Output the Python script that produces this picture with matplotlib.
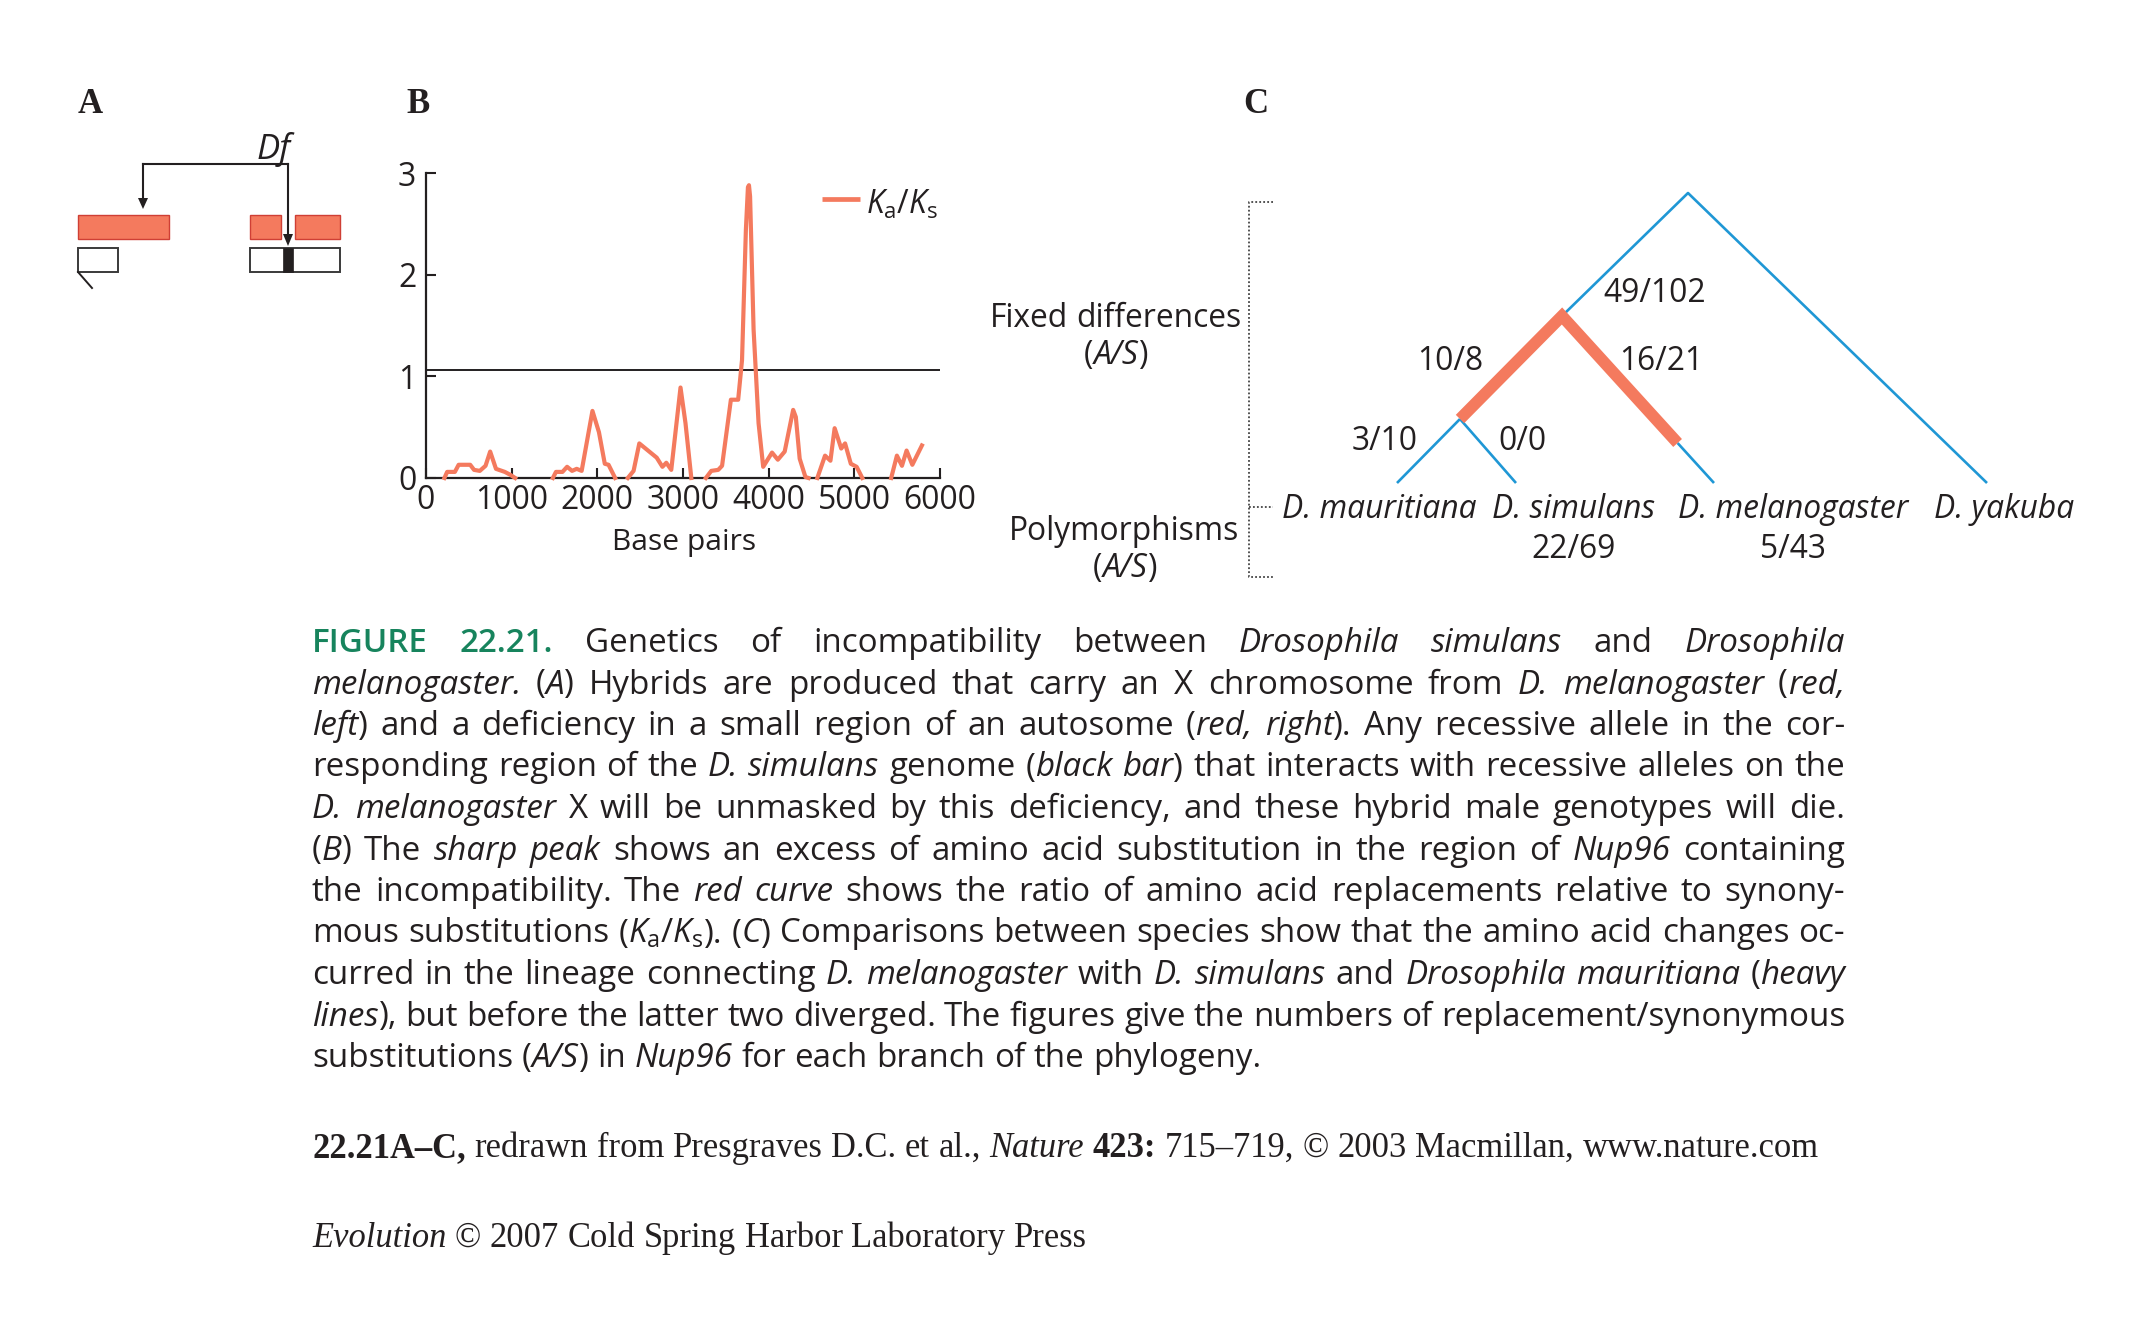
import matplotlib
matplotlib.use('Agg')
import matplotlib.pyplot as plt
import numpy as np
from matplotlib.patches import Rectangle, Polygon

W, H = 2156, 1320
SANS = 'Open Sans'
SERIF = 'Liberation Serif'
plt.rcParams['font.family'] = [SANS, 'DejaVu Sans']
plt.rcParams['mathtext.fontset'] = 'custom'
plt.rcParams['mathtext.rm'] = SANS
plt.rcParams['mathtext.it'] = SANS + ':italic'
plt.rcParams['mathtext.bf'] = SANS + ':bold'

RED = '#F47A5E'
RED_EDGE = '#CF3F35'
BLUE = '#1F97D5'
GREEN = '#17845D'
INK = '#231F20'

# ---------------- data ----------------
# Panel B: Ka/Ks along Nup96 (NaN = gaps where the curve sits on the axis)
bp = [215, 247, 337, 381, 516, 561, 628, 695, 749, 817, 920, 987, 1041, np.nan,
      1481, 1517, 1593, 1647, 1705, 1759, 1817, 1943, 2019, 2087, 2131, 2208, np.nan,
      2356, 2423, 2490, 2693, 2760, 2805, 2863, 2971, 3029, 3097, np.nan,
      3267, 3330, 3411, 3456, 3559, 3644, 3689, 3734, 3758, 3770, 3783, 3824, 3882,
      3936, 4039, 4107, 4187, 4286, 4317, 4362, 4429, 4465, np.nan,
      4568, 4658, 4721, 4770, 4847, 4892, 4959, 5027, 5093, np.nan,
      5430, 5497, 5556, 5610, 5677, 5789]
kaks = [0, 0.06, 0.06, 0.13, 0.13, 0.08, 0.07, 0.12, 0.26, 0.09, 0.06, 0.03, 0, np.nan,
        0, 0.06, 0.06, 0.11, 0.07, 0.09, 0.07, 0.66, 0.45, 0.14, 0.13, 0, np.nan,
        0, 0.07, 0.34, 0.20, 0.11, 0.15, 0.08, 0.89, 0.54, 0, np.nan,
        0, 0.07, 0.08, 0.12, 0.77, 0.77, 1.16, 2.44, 2.86, 2.88, 2.77, 1.46, 0.54,
        0.11, 0.25, 0.18, 0.26, 0.67, 0.60, 0.19, 0.01, 0, np.nan,
        0, 0.22, 0.17, 0.49, 0.29, 0.34, 0.14, 0.11, 0, np.nan,
        0, 0.22, 0.12, 0.27, 0.13, 0.32]
x_ticks = [0, 1000, 2000, 3000, 4000, 5000, 6000]
y_ticks = [0, 1, 2, 3]
threshold = 1.06

# Panel C: phylogeny labels
species = ['D. mauritiana', 'D. simulans', 'D. melanogaster', 'D. yakuba']
polymorphisms = ['', '22/69', '5/43', '']
branch_fixed = ['3/10', '0/0', '10/8', '16/21', '49/102']

caption = [
    "#FIGURE 22.21.# Genetics of incompatibility between *Drosophila simulans* and *Drosophila*",
    "*melanogaster.* (*A*) Hybrids are produced that carry an X chromosome from *D. melanogaster* (*red,*",
    "*left*) and a deficiency in a small region of an autosome (*red, right*). Any recessive allele in the cor-",
    "responding region of the *D. simulans* genome (*black bar*) that interacts with recessive alleles on the",
    "*D. melanogaster* X will be unmasked by this deficiency, and these hybrid male genotypes will die.",
    "(*B*) The *sharp peak* shows an excess of amino acid substitution in the region of *Nup96* containing",
    "the incompatibility. The *red curve* shows the ratio of amino acid replacements relative to synony-",
    "mous substitutions ($K_{\\mathrm{a}}/K_{\\mathrm{s}}$). (*C*) Comparisons between species show that the amino acid changes oc-",
    "curred in the lineage connecting *D. melanogaster* with *D. simulans* and *Drosophila mauritiana* (*heavy*",
    "*lines*), but before the latter two diverged. The figures give the numbers of replacement/synonymous",
    "substitutions (*A/S*) in *Nup96* for each branch of the phylogeny.",
]
credits = [
    "!22.21A\u2013C,! redrawn from Presgraves D.C. et al., *Nature* !423:! 715\u2013719, \u00a9 2003 Macmillan, www.nature.com",
    "*Evolution* \u00a9 2007 Cold Spring Harbor Laboratory Press",
]

# ---------------- figure ----------------
fig = plt.figure(figsize=(W / 100, H / 100), dpi=100)
ax0 = fig.add_axes([0, 0, 1, 1])
ax0.set_xlim(0, W)
ax0.set_ylim(H, 0)
ax0.axis('off')
renderer = fig.canvas.get_renderer()


def tw(s, size, **kw):
    t = ax0.text(0, 0, s, fontsize=size, **kw)
    w = t.get_window_extent(renderer).width
    t.remove()
    return w


def adv(s, size, **kw):
    if s.startswith('$'):
        return tw(s, size, **kw)
    return tw('H' + s + 'H', size, **kw) - tw('HH', size, **kw)


def fit(s, target, base=20, **kw):
    return base * target / tw(s, base, **kw)


def parse(line, markers):
    words = []
    state = set()
    for raw in line.split(' '):
        pieces = []
        buf = ''
        i = 0
        while i < len(raw):
            c = raw[i]
            if c == '$':
                j = raw.index('$', i + 1)
                if buf:
                    pieces.append((buf, frozenset(state)))
                    buf = ''
                pieces.append((raw[i:j + 1], frozenset(state)))
                i = j + 1
                continue
            if c in markers:
                if buf:
                    pieces.append((buf, frozenset(state)))
                    buf = ''
                state ^= {markers[c]}
            else:
                buf += c
            i += 1
        if buf:
            pieces.append((buf, frozenset(state)))
        words.append(pieces)
    return words


def props_sans(st):
    d = dict(family=[SANS, 'DejaVu Sans'], color=INK, style='normal', weight='normal')
    if 'i' in st:
        d['style'] = 'italic'
    if 'g' in st:
        d['color'] = GREEN
        d['weight'] = 'semibold'
    return d


def props_serif(st):
    d = dict(family=[SERIF, 'DejaVu Serif'], color=INK, style='normal', weight='normal')
    if 'i' in st:
        d['style'] = 'italic'
    if 'b' in st:
        d['weight'] = 'bold'
    return d


def word_w(pieces, size, pf):
    return sum(adv(p, size, **pf(st)) for p, st in pieces)


def draw_word(x, y, pieces, size, pf):
    for p, st in pieces:
        ax0.text(x, y, p, fontsize=size, ha='left', va='baseline', **pf(st))
        x += adv(p, size, **pf(st))
    return x


def space_w(size, pf):
    return tw('a a', size, **pf(frozenset())) - tw('aa', size, **pf(frozenset()))


def natural_width(words, size, pf):
    sp = space_w(size, pf)
    return sum(word_w(w, size, pf) for w in words) + sp * (len(words) - 1)


def draw_line(x0, x1, y, words, size, pf, justify=True):
    widths = [word_w(w, size, pf) for w in words]
    sp = space_w(size, pf)
    if justify and len(words) > 1:
        gap = (x1 - x0 - sum(widths)) / (len(words) - 1)
    else:
        gap = sp
    x = x0
    for w, ww in zip(words, widths):
        draw_word(x, y, w, size, pf)
        x += ww + gap


def draw_centered(xc, y, s, size, pf, markers):
    words = parse(s, markers)
    total = natural_width(words, size, pf)
    sp = space_w(size, pf)
    x = xc - total / 2
    for w in words:
        x = draw_word(x, y, w, size, pf) + sp


# ---------------- panel labels ----------------
lab_size = 25
for lab, xl in (('A', 78), ('B', 406), ('C', 1243)):
    ax0.text(xl, 113, lab, fontsize=lab_size, family=SERIF, weight='bold',
             color=INK, ha='left', va='baseline')

# ---------------- panel A ----------------
ax0.add_patch(Rectangle((78, 215), 91, 24, facecolor=RED, edgecolor=RED_EDGE, lw=1))
ax0.add_patch(Rectangle((250, 215), 31, 24, facecolor=RED, edgecolor=RED_EDGE, lw=1))
ax0.add_patch(Rectangle((295, 215), 45, 24, facecolor=RED, edgecolor=RED_EDGE, lw=1))
ax0.add_patch(Rectangle((78, 248), 40, 24, facecolor='white', edgecolor='#3a3a3a', lw=1.4))
ax0.plot([78, 92], [272, 288], color=INK, lw=1.4)
ax0.add_patch(Rectangle((250, 248), 90, 24, facecolor='white', edgecolor='#3a3a3a', lw=1.4))
ax0.add_patch(Rectangle((283, 248), 10, 24, facecolor=INK, edgecolor=INK, lw=0.5))
ax0.plot([143, 288], [164, 164], color=INK, lw=1.5)
ax0.plot([288, 288], [164, 234], color=INK, lw=1.5)
ax0.plot([143, 143], [164, 198], color=INK, lw=1.5)
ax0.add_patch(Polygon([[138, 198], [148, 198], [143, 209]], closed=True, color=INK, lw=0))
ax0.add_patch(Polygon([[283, 234], [293, 234], [288, 246]], closed=True, color=INK, lw=0))
ax0.text(274, 159, 'Df', fontsize=fit('Df', 34, family=SANS, style='italic'),
         family=SANS, style='italic', color=INK, ha='center', va='baseline')

# ---------------- panel B ----------------
axB = fig.add_axes([426 / W, 1 - 478 / H, (940 - 426) / W, (478 - 173) / H])
axB.set_xlim(0, 6000)
axB.set_ylim(0, 3)
axB.plot(bp, kaks, color=RED, lw=3.0, solid_joinstyle='round', zorder=3, clip_on=False)
axB.axhline(threshold, color=INK, lw=1.4, zorder=2)
for s in ('top', 'right'):
    axB.spines[s].set_visible(False)
for s in ('left', 'bottom'):
    axB.spines[s].set_linewidth(1.6)
    axB.spines[s].set_color(INK)
axB.set_xticks(x_ticks)
axB.set_yticks(y_ticks)
tick_size = fit('1000', 73, family=SANS)
axB.set_xticklabels([str(v) for v in x_ticks])
axB.set_yticklabels([str(v) for v in y_ticks])
axB.tick_params(direction='in', length=7, width=1.5, color=INK, labelsize=tick_size,
                labelcolor=INK)
axB.tick_params(axis='x', pad=4)
axB.tick_params(axis='y', pad=7)
axB.patch.set_alpha(0)
ax0.text(684, 550, 'Base pairs', fontsize=fit('Base pairs', 144, family=SANS),
         family=SANS, color=INK, ha='center', va='baseline')
# legend
ax0.plot([822, 860], [199, 199], color=RED, lw=3.4, solid_capstyle='butt')
leg = r'$K_{\mathrm{a}}/K_{\mathrm{s}}$'
ax0.text(866, 214, leg, fontsize=fit(leg, 72), color=INK, ha='left', va='baseline')

# ---------------- panel C ----------------
csize = fit('D. melanogaster', 230, family=SANS, style='italic')
tip_y = 483
tips_x = [1397, 1516, 1714, 1987]
node_ms = (1460, 419)
node_msm = (1562, 316)
root = (1688, 193)
frac = (443 - node_msm[1]) / (tip_y - node_msm[1])
red_end = (node_msm[0] + frac * (tips_x[2] - node_msm[0]), 443)

blue_kw = dict(color=BLUE, lw=1.9, solid_capstyle='butt')
ax0.plot([node_ms[0], tips_x[0]], [node_ms[1], tip_y], **blue_kw)
ax0.plot([node_ms[0], tips_x[1]], [node_ms[1], tip_y], **blue_kw)
ax0.plot([red_end[0], tips_x[2]], [red_end[1], tip_y], **blue_kw)
ax0.plot([node_msm[0], root[0], tips_x[3]], [node_msm[1], root[1], tip_y], **blue_kw)
ax0.plot([node_ms[0], node_msm[0], red_end[0]], [node_ms[1], node_msm[1], red_end[1]],
         color=RED, lw=8.5, solid_joinstyle='miter', solid_capstyle='butt', zorder=4)

for name, xc in zip(species, (1379, 1574, 1793, 2004)):
    ax0.text(xc, 518, name, fontsize=csize, family=SANS, style='italic', color=INK,
             ha='center', va='baseline')
for val, xc in zip(polymorphisms, (1379, 1574, 1793, 2004)):
    if val:
        ax0.text(xc, 558, val, fontsize=csize, family=SANS, color=INK,
                 ha='center', va='baseline')
branch_pos = [(1385, 450), (1522, 450), (1450, 370), (1661, 370), (1655, 302)]
for val, (xc, yb) in zip(branch_fixed, branch_pos):
    ax0.text(xc, yb, val, fontsize=csize, family=SANS, color=INK, ha='center', va='baseline')

mk = {'*': 'i'}
draw_centered(1116, 327, 'Fixed differences', csize, props_sans, mk)
draw_centered(1116, 364, '(*A/S*)', csize, props_sans, mk)
draw_centered(1124, 540, 'Polymorphisms', csize, props_sans, mk)
draw_centered(1125, 577, '(*A/S*)', csize, props_sans, mk)

dot_kw = dict(color='#444444', lw=1.3, linestyle=(0, (1, 1.2)))
ax0.plot([1273, 1249, 1249, 1273], [202, 202, 577, 577], **dot_kw)
ax0.plot([1249, 1273], [507, 507], **dot_kw)

# ---------------- caption ----------------
cap_words = [parse(l, {'*': 'i', '#': 'g'}) for l in caption]
X0, X1 = 312, 1845
base = 20
ratios = [(X1 - X0) / natural_width(w, base, props_sans) for w in cap_words[:-1]]
last_fit = (1299 - X0) / natural_width(cap_words[-1], base, props_sans)
cap_size = base * min(min(ratios), last_fit)
for i, words in enumerate(cap_words):
    y = 652 + 41.5 * i
    draw_line(X0, X1, y, words, cap_size, props_sans, justify=(i < len(cap_words) - 1))

# ---------------- credits ----------------
cr_words = [parse(l, {'*': 'i', '!': 'b'}) for l in credits]
cr_size = base * (1818 - 312) / natural_width(cr_words[0], base, props_serif)
for words, y in zip(cr_words, (1157, 1247)):
    draw_line(312, None, y, words, cr_size, props_serif, justify=False)

fig.savefig('out.png', dpi=100, facecolor='white')
